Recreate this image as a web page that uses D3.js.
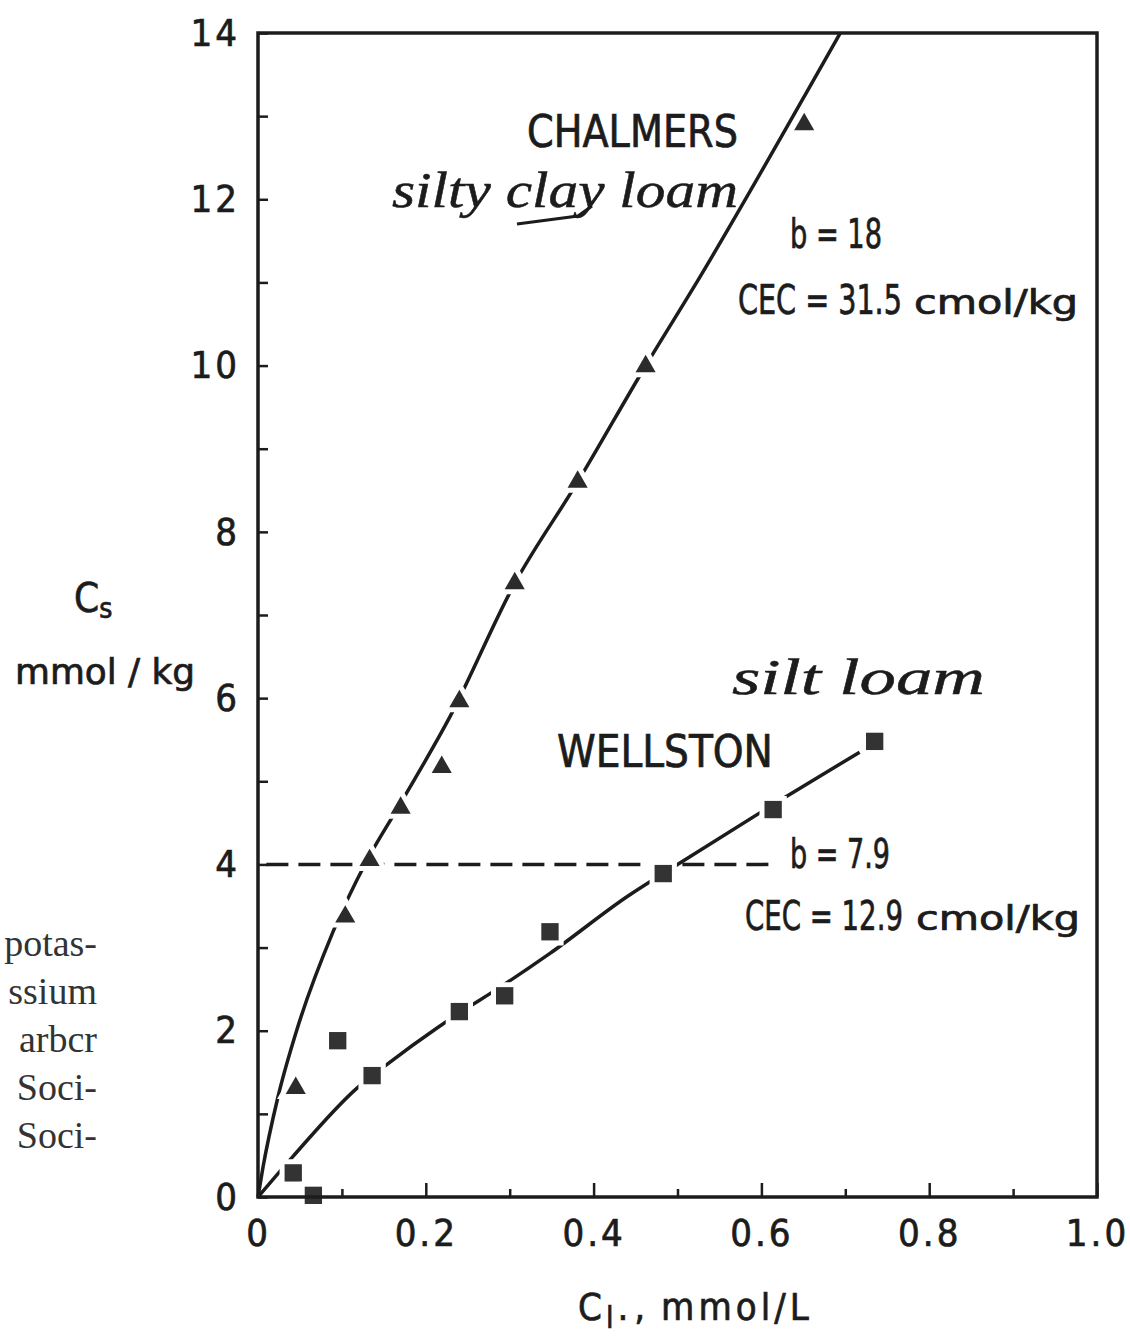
<!DOCTYPE html>
<meta charset="utf-8">
<script src="https://d3js.org/d3.v7.min.js"></script>
<style>
  body { margin: 0; background: #fff; }
  .lab { font-family: "DejaVu Sans Condensed", "Liberation Sans Narrow", "DejaVu Sans", sans-serif; font-stretch: condensed; fill: #1c1c1c; stroke: #1c1c1c; stroke-width: 0.7px; }
  .hand { font-family: "Liberation Serif", "DejaVu Serif", serif; font-style: italic; fill: #1c1c1c; stroke: #1c1c1c; stroke-width: 0.5px; }
  .side { font-family: "Liberation Serif", "DejaVu Serif", serif; fill: #333; }
</style>
<div id="my_dataviz"></div>
<script>

// measured points (triangles = Chalmers, squares = Wellston)
var chalmersX = [0.045, 0.104, 0.133, 0.17, 0.219, 0.24, 0.306, 0.381, 0.462, 0.651]
var chalmersY = [1.31, 3.37, 4.05, 4.68, 5.17, 5.96, 7.38, 8.6, 9.99, 12.9]
var wellstonX = [0.042, 0.066, 0.095, 0.136, 0.24, 0.294, 0.348, 0.483, 0.614, 0.735]
var wellstonY = [0.29, 0.02, 1.88, 1.46, 2.23, 2.42, 3.19, 3.89, 4.66, 5.48]

// fitted curves
var chalmersFitX = [0, 0.006, 0.023, 0.046, 0.089, 0.13, 0.169, 0.229, 0.306, 0.381, 0.461, 0.527, 0.662, 0.694]
var chalmersFitY = [0, 0.36, 1.17, 2.0, 3.18, 4.05, 4.72, 5.78, 7.38, 8.6, 9.98, 11.07, 13.43, 14.0]
var wellstonFitX = [0, 0.041, 0.118, 0.157, 0.213, 0.241, 0.285, 0.348, 0.441, 0.5, 0.614, 0.717]
var wellstonFitY = [0, 0.48, 1.31, 1.62, 2.03, 2.22, 2.5, 2.93, 3.62, 4.0, 4.72, 5.35]

// horizontal reference line at Cs = 4
var refLevel = 4
var refSpan = [0.01, 0.62]

// ticks
var xMajor = [0, 0.2, 0.4, 0.6, 0.8, 1.0]
var xMinor = [0.1, 0.3, 0.5, 0.7, 0.9]
var yMajor = [0, 2, 4, 6, 8, 10, 12, 14]
var yMinor = [1, 3, 5, 7, 9, 11, 13]

var W = 1130, H = 1342
var margin = {left: 258, top: 33, right: 33, bottom: 145}

var svg = d3.select("#my_dataviz")
  .append("svg")
    .attr("width", W)
    .attr("height", H)

var x = d3.scaleLinear().domain([0, 1]).range([margin.left, W - margin.right])
var y = d3.scaleLinear().domain([0, 14]).range([H - margin.bottom, margin.top])

var ink = "#1c1c1c"

// dashed line at Cs = 4
svg.append("line")
  .attr("x1", x(refSpan[0])).attr("x2", x(refSpan[1]))
  .attr("y1", y(refLevel)).attr("y2", y(refLevel))
  .attr("stroke", ink).attr("stroke-width", 3.5)
  .attr("stroke-dasharray", "22,10")

// fitted curves
var line = d3.line()
  .x(function(d){ return x(d[0]) })
  .y(function(d){ return y(d[1]) })
  .curve(d3.curveMonotoneX)

svg.append("path")
  .datum(d3.zip(chalmersFitX, chalmersFitY))
  .attr("d", line)
  .attr("fill", "none").attr("stroke", ink).attr("stroke-width", 3.5)

svg.append("path")
  .datum(d3.zip(wellstonFitX, wellstonFitY))
  .attr("d", line)
  .attr("fill", "none").attr("stroke", ink).attr("stroke-width", 3.5)

// markers, white halo breaks the lines around them
svg.selectAll(".tri")
  .data(d3.zip(chalmersX, chalmersY))
  .enter().append("path")
    .attr("class", "tri")
    .attr("d", d3.symbol().type(d3.symbolTriangle).size(175))
    .attr("transform", function(d){ return "translate(" + x(d[0]) + "," + y(d[1]) + ")" })
    .attr("fill", "#2b2b2b")
    .attr("stroke", "white").attr("stroke-width", 10)
    .attr("paint-order", "stroke")

svg.selectAll(".sq")
  .data(d3.zip(wellstonX, wellstonY))
  .enter().append("path")
    .attr("class", "sq")
    .attr("d", d3.symbol().type(d3.symbolSquare).size(300))
    .attr("transform", function(d){ return "translate(" + x(d[0]) + "," + y(d[1]) + ")" })
    .attr("fill", "#333")
    .attr("stroke", "white").attr("stroke-width", 10)
    .attr("paint-order", "stroke")

// frame
svg.append("rect")
  .attr("x", x(0)).attr("y", y(14))
  .attr("width", x(1) - x(0)).attr("height", y(0) - y(14))
  .attr("fill", "none").attr("stroke", ink).attr("stroke-width", 3.5)

// axes, ticks pointing inward
svg.append("g")
  .attr("transform", "translate(0," + y(0) + ")")
  .call(d3.axisBottom(x).tickValues(xMajor).tickSizeInner(-14).tickSizeOuter(0).tickPadding(22)
    .tickFormat(function(d){ return d === 0 ? "0" : d3.format(".1f")(d) }))
svg.append("g")
  .attr("transform", "translate(0," + y(0) + ")")
  .call(d3.axisBottom(x).tickValues(xMinor).tickSizeInner(-8).tickSizeOuter(0).tickFormat(""))

svg.append("g")
  .attr("transform", "translate(" + x(0) + ",0)")
  .call(d3.axisLeft(y).tickValues(yMajor).tickSizeInner(-10).tickSizeOuter(0).tickPadding(18))
svg.append("g")
  .attr("transform", "translate(" + x(0) + ",0)")
  .call(d3.axisLeft(y).tickValues(yMinor).tickSizeInner(-10).tickSizeOuter(0).tickFormat(""))

svg.selectAll(".domain").remove()
svg.selectAll(".tick line").attr("stroke", ink).attr("stroke-width", 2.5)
svg.selectAll(".tick text")
  .attr("class", "lab")
  .style("font-size", "38px")
  .style("letter-spacing", "3px")
  .attr("fill", ink)

// text squeezed horizontally to a given width (condensed look of the scan)
function label(txt, px, py, size, len, cls) {
  var t = svg.append("text").attr("class", cls || "lab")
    .style("font-size", size + "px")
    .text(txt)
  var k = len / t.node().getComputedTextLength()
  t.attr("transform", "translate(" + px + "," + py + ") scale(" + k + ",1)")
  return t
}

label("CHALMERS", 527, 147, 44, 211)
label("WELLSTON", 557, 767, 44, 216)
label("b = 18", 790, 248, 40, 92)
label("b = 7.9", 790, 868, 40, 100)

label("CEC = 31.5", 738, 314, 40, 164)
label("cmol/kg", 914, 314, 33, 164)
label("CEC = 12.9", 745, 930, 40, 158)
label("cmol/kg", 916, 930, 33, 164)

// handwritten notes
label("silty clay loam", 392, 207, 50, 346, "hand")
svg.append("path")
  .attr("d", "M517,224 L578,216 L592,206")
  .attr("fill", "none").attr("stroke", ink).attr("stroke-width", 3)
label("silt loam", 732, 694, 50, 253, "hand")

// axis titles
var ylab = svg.append("text").attr("class", "lab").attr("x", 74).attr("y", 612).style("font-size", "40px")
ylab.append("tspan").text("C")
ylab.append("tspan").attr("dy", 6).style("font-size", "28px").text("s")

label("mmol / kg", 15, 684, 36, 180)

var xlab = svg.append("text").attr("class", "lab").attr("x", 578).attr("y", 1320)
  .style("font-size", "38px").style("letter-spacing", "4px")
xlab.append("tspan").text("C")
xlab.append("tspan").attr("dy", 8).style("font-size", "30px").text("l")
xlab.append("tspan").attr("dy", -8).text(".,").style("letter-spacing", "6px")
xlab.append("tspan").attr("dx", 10).text("mmol/L")

// caption text at the left edge of the scan
var sideLines = ["potas-", "ssium", "arbcr", "Soci-", "Soci-"]
svg.selectAll(".side")
  .data(sideLines)
  .enter().append("text")
    .attr("class", "side")
    .attr("x", 97)
    .attr("y", function(d, i){ return 956 + i * 48 })
    .attr("text-anchor", "end")
    .style("font-size", "38px")
    .text(function(d){ return d })

</script>
